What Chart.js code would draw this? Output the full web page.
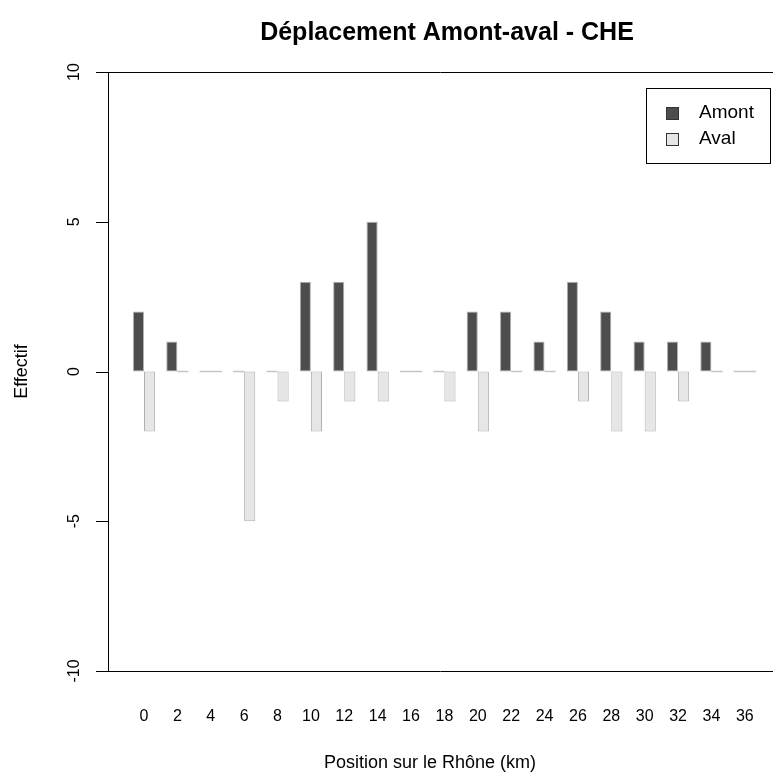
<!DOCTYPE html>
<html>
<head>
<meta charset="utf-8">
<script src="https://cdn.jsdelivr.net/npm/chart.js@4/dist/chart.umd.min.js"></script>
<style>
  html, body { margin: 0; padding: 0; background: #fff; }
  canvas { display: block; }
</style>
</head>
<body>
<canvas id="chart" width="773" height="776"></canvas>
<script>
// Position sur le Rhône (km)
const positions = [0, 2, 4, 6, 8, 10, 12, 14, 16, 18, 20, 22, 24, 26, 28, 30, 32, 34, 36]
// Effectifs par position
const amont = [2, 1, 0, 0, 0, 3, 3, 5, 0, 0, 2, 2, 1, 3, 2, 1, 1, 1, 0]
const aval = [-2, 0, 0, -5, -1, -2, -1, -1, 0, -1, -2, 0, 0, -1, -2, -2, -1, 0, 0]
const yTicks = [-10, -5, 0, 5, 10]

const FONT = "'Liberation Sans', Arial, sans-serif"
const EDGE = '#b0b0b0'

function barSet(label, values, fill) {
  return {
    label,
    data: positions.map((p, i) => ({ x: p, y: values[i] })),
    backgroundColor: values.map(v => v === 0 ? '#c4c4c4' : fill),
    borderColor: EDGE,
    borderWidth: values.map(v => v === 0 ? 0 : 1),
    borderSkipped: false,
    minBarLength: 1.5,
    categoryPercentage: 2 / 3,
    barPercentage: 1,
  }
}

// axes, labels, title and legend drawn R-style
const rFrame = {
  id: 'rFrame',
  afterDraw(chart) {
    const { ctx, chartArea: a, scales: { x, y } } = chart
    ctx.save()
    ctx.strokeStyle = '#000'
    ctx.lineWidth = 1
    ctx.beginPath()
    ctx.moveTo(a.left + 0.5, a.top); ctx.lineTo(a.left + 0.5, a.bottom)
    ctx.moveTo(a.left, a.top + 0.5); ctx.lineTo(a.right, a.top + 0.5)
    ctx.moveTo(a.left, a.bottom + 0.5); ctx.lineTo(a.right, a.bottom + 0.5)
    yTicks.forEach(t => {
      const py = Math.round(y.getPixelForValue(t)) + 0.5
      ctx.moveTo(a.left - 12, py); ctx.lineTo(a.left, py)
    })
    ctx.stroke()

    ctx.fillStyle = '#000'
    ctx.textAlign = 'center'
    ctx.textBaseline = 'middle'

    // y tick labels, rotated
    ctx.font = `16px ${FONT}`
    yTicks.forEach(t => {
      ctx.save()
      ctx.translate(a.left - 33, y.getPixelForValue(t))
      ctx.rotate(-Math.PI / 2)
      ctx.fillText(String(t), 0, 0)
      ctx.restore()
    })

    // x tick labels
    positions.forEach(p => ctx.fillText(String(p), x.getPixelForValue(p), 717))

    // axis titles
    ctx.font = `18px ${FONT}`
    ctx.fillText('Position sur le Rhône (km)', 430, 763)
    ctx.save()
    ctx.translate(22, y.getPixelForValue(0))
    ctx.rotate(-Math.PI / 2)
    ctx.fillText('Effectif', 0, 0)
    ctx.restore()

    // title
    ctx.font = `bold 25px ${FONT}`
    ctx.fillText('Déplacement Amont-aval - CHE', 447, 33)

    // legend
    ctx.strokeRect(646.5, 88.5, 124, 75)
    const items = [['Amont', '#4d4d4d', 113], ['Aval', '#e6e6e6', 139]]
    ctx.font = `19px ${FONT}`
    ctx.textAlign = 'left'
    items.forEach(([txt, col, cy]) => {
      ctx.fillStyle = col
      ctx.fillRect(666, cy - 6, 13, 13)
      ctx.strokeStyle = '#333'
      ctx.strokeRect(666.5, cy - 5.5, 12, 12)
      ctx.fillStyle = '#000'
      ctx.fillText(txt, 699, cy)
    })
    ctx.restore()
  },
}

new Chart(document.getElementById('chart'), {
  type: 'bar',
  data: {
    datasets: [
      barSet('Amont', amont, '#4d4d4d'),
      barSet('Aval', aval, '#e6e6e6'),
    ],
  },
  options: {
    responsive: false,
    animation: false,
    layout: { padding: { left: 108, top: 72, right: 0, bottom: 105 } },
    scales: {
      x: { type: 'linear', display: false, offset: false, min: -2.157, max: 37.69 },
      y: { display: false, min: -10, max: 10 },
    },
    plugins: {
      legend: { display: false },
      tooltip: { enabled: false },
    },
  },
  plugins: [rFrame],
})
</script>
</body>
</html>
